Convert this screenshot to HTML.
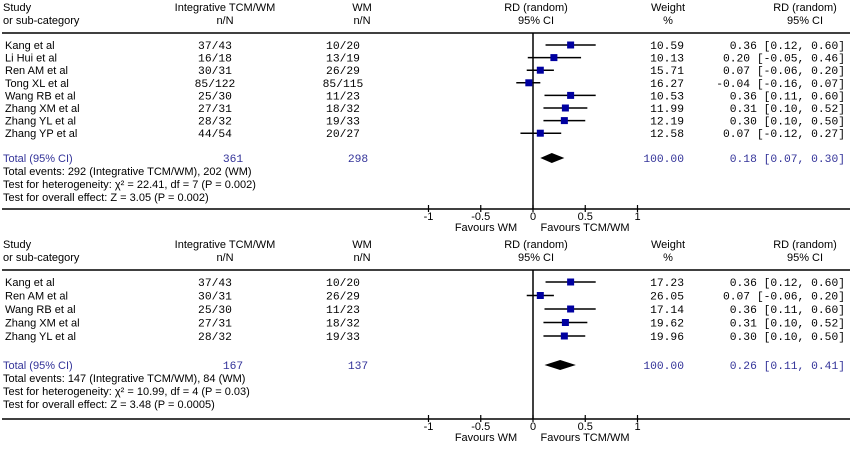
<!DOCTYPE html>
<html><head><meta charset="utf-8"><style>
body{margin:0;background:#fff;}
svg{display:block;font-family:"Liberation Sans",Arial,sans-serif;font-size:11px;}
.m{font-family:"Liberation Mono",monospace;font-size:11.3px;}
.b{fill:#333399;}
</style></head><body>
<svg id="c" width="850" height="449" viewBox="0 0 850 449"></svg>
<script>
const top_studies=["Kang et al","Li Hui et al","Ren AM et al","Tong XL et al","Wang RB et al","Zhang XM et al","Zhang YL et al","Zhang YP et al"];
const top_tcm=["37/43","16/18","30/31","85/122","25/30","27/31","28/32","44/54"];
const top_wm=["10/20","13/19","26/29","85/115","11/23","18/32","19/33","20/27"];
const top_weight=[10.59,10.13,15.71,16.27,10.53,11.99,12.19,12.58];
const top_rd=[0.36,0.20,0.07,-0.04,0.36,0.31,0.30,0.07];
const top_lo=[0.12,-0.05,-0.06,-0.16,0.11,0.10,0.10,-0.12];
const top_hi=[0.60,0.46,0.20,0.07,0.60,0.52,0.50,0.27];
const top_total=[0.18,0.07,0.30];
const top_totN=["361","298"];
const top_notes=["Total events: 292 (Integrative TCM/WM), 202 (WM)","Test for heterogeneity: χ² = 22.41, df = 7 (P = 0.002)","Test for overall effect: Z = 3.05 (P = 0.002)"];
const bot_studies=["Kang et al","Ren AM et al","Wang RB et al","Zhang XM et al","Zhang YL et al"];
const bot_tcm=["37/43","30/31","25/30","27/31","28/32"];
const bot_wm=["10/20","26/29","11/23","18/32","19/33"];
const bot_weight=[17.23,26.05,17.14,19.62,19.96];
const bot_rd=[0.36,0.07,0.36,0.31,0.30];
const bot_lo=[0.12,-0.06,0.11,0.10,0.10];
const bot_hi=[0.60,0.20,0.60,0.52,0.50];
const bot_total=[0.26,0.11,0.41];
const bot_totN=["167","137"];
const bot_notes=["Total events: 147 (Integrative TCM/WM), 84 (WM)","Test for heterogeneity: χ² = 10.99, df = 4 (P = 0.03)","Test for overall effect: Z = 3.48 (P = 0.0005)"];
const ticks=[-1,-0.5,0,0.5,1];
const tickLabels=["-1","-0.5","0","0.5","1"];

const svg=document.getElementById('c');
const NS="http://www.w3.org/2000/svg";
function mk(tag,attrs,name,txt){const e=document.createElementNS(NS,tag);for(const k in attrs)e.setAttribute(k,attrs[k]);


if(txt!==undefined)e.textContent=txt;svg.appendChild(e);return e;}
const X=v=>533+v*104.5;
const f2=v=>v.toFixed(2);
function ci(r,l,h){return f2(r)+" ["+f2(l)+", "+f2(h)+"]";}

function panel(y0,studies,tcm,wm,w,rd,lo,hi,tot,totN,notes,rowH,totY,botY,p){
  mk('text',{x:3,y:y0+11},p+'study-header','Study');
  mk('text',{x:3,y:y0+24},p+'subcategory-header','or sub-category');
  mk('text',{x:225,y:y0+11,'text-anchor':'middle'},p+'tcm-header','Integrative TCM/WM');
  mk('text',{x:225,y:y0+24,'text-anchor':'middle'},p+'tcm-nN','n/N');
  mk('text',{x:362,y:y0+11,'text-anchor':'middle'},p+'wm-header','WM');
  mk('text',{x:362,y:y0+24,'text-anchor':'middle'},p+'wm-nN','n/N');
  mk('text',{x:536,y:y0+11,'text-anchor':'middle'},p+'rd-plot-header','RD (random)');
  mk('text',{x:536,y:y0+24,'text-anchor':'middle'},p+'rd-plot-ci','95% CI');
  mk('text',{x:668,y:y0+11,'text-anchor':'middle'},p+'weight-header','Weight');
  mk('text',{x:668,y:y0+24,'text-anchor':'middle'},p+'weight-pct','%');
  mk('text',{x:805,y:y0+11,'text-anchor':'middle'},p+'rd-header','RD (random)');
  mk('text',{x:805,y:y0+24,'text-anchor':'middle'},p+'rd-ci','95% CI');
  const lineY=y0+33;
  mk('line',{x1:2,x2:850,y1:lineY,y2:lineY,stroke:'#000','stroke-width':1.5},p+'header-rule');
  mk('line',{x1:X(0),x2:X(0),y1:lineY,y2:botY,stroke:'#000','stroke-width':1.5},p+'zero-line');
  studies.forEach((s,i)=>{
    const y=lineY+12+i*rowH;
    mk('text',{x:5,y:y+4},p+'study-name',s);
    mk('text',{x:215,y:y+4,'text-anchor':'middle',class:'m'},p+'tcm-count',tcm[i]);
    mk('text',{x:343,y:y+4,'text-anchor':'middle',class:'m'},p+'wm-count',wm[i]);
    mk('line',{x1:X(lo[i]),x2:X(hi[i]),y1:y,y2:y,stroke:'#000','stroke-width':1.5},p+'ci-line');
    mk('rect',{x:X(rd[i])-3.5,y:y-3.5,width:7,height:7,fill:'#0000a0'},p+'study-marker');
    mk('text',{x:684,y:y+4,'text-anchor':'end',class:'m'},p+'weight-value',f2(w[i]));
    mk('text',{x:845,y:y+4,'text-anchor':'end',class:'m'},p+'rd-value',ci(rd[i],lo[i],hi[i]));
  });
  mk('text',{x:3,y:totY+4,class:'b'},p+'total-label','Total (95% CI)');
  mk('text',{x:233,y:totY+4,'text-anchor':'middle',class:'m b'},p+'tcm-total',totN[0]);
  mk('text',{x:358,y:totY+4,'text-anchor':'middle',class:'m b'},p+'wm-total',totN[1]);
  mk('polygon',{points:[X(tot[1])+','+totY,X(tot[0])+','+(totY-5),X(tot[2])+','+totY,X(tot[0])+','+(totY+5)].join(' '),fill:'#000'},p+'total-diamond');
  mk('text',{x:684,y:totY+4,'text-anchor':'end',class:'m b'},p+'total-weight','100.00');
  mk('text',{x:845,y:totY+4,'text-anchor':'end',class:'m b'},p+'total-rd',ci(tot[0],tot[1],tot[2]));
  notes.forEach((n,i)=>mk('text',{x:3,y:totY+17+i*13},p+'note',n));
  mk('line',{x1:2,x2:850,y1:botY,y2:botY,stroke:'#000','stroke-width':1.5},p+'axis-line');
  ticks.forEach((t,i)=>{
    mk('line',{x1:X(t),x2:X(t),y1:botY-4,y2:botY+3,stroke:'#000','stroke-width':1.2},p+'tick');
    mk('text',{x:X(t),y:botY+11,'text-anchor':'middle'},p+'tick-label',tickLabels[i]);
  });
  mk('text',{x:486,y:botY+22,'text-anchor':'middle'},p+'favours-wm','Favours WM');
  mk('text',{x:585,y:botY+22,'text-anchor':'middle'},p+'favours-tcm','Favours TCM/WM');
}
panel(0,top_studies,top_tcm,top_wm,top_weight,top_rd,top_lo,top_hi,top_total,top_totN,top_notes,12.6,158,209,'top-');
panel(237,bot_studies,bot_tcm,bot_wm,bot_weight,bot_rd,bot_lo,bot_hi,bot_total,bot_totN,bot_notes,13.5,365,419,'bottom-');
</script>
</body></html>
